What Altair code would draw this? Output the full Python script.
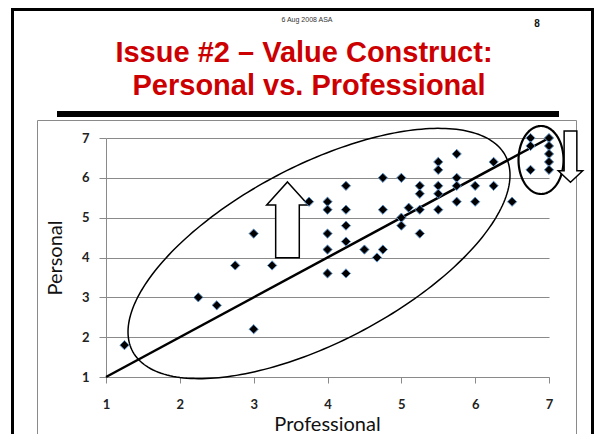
import altair as alt
import pandas as pd
import numpy as np

# ---- data ----
professional = [1.25, 2.25, 2.5, 2.75, 3.0, 3.0, 3.25, 3.75,
                4.0, 4.0, 4.0, 4.0, 4.0,
                4.25, 4.25, 4.25, 4.25, 4.25,
                4.5, 4.67,
                4.75, 4.75, 4.75,
                5.0, 5.0, 5.0, 5.1,
                5.25, 5.25, 5.25, 5.25,
                5.5, 5.5, 5.5, 5.5, 5.5,
                5.75, 5.75, 5.75, 5.75,
                6.0, 6.0, 6.25, 6.25, 6.5,
                6.75, 6.75, 6.75,
                7.0, 7.0, 7.0, 7.0, 7.0]
personal = [1.8, 3.0, 2.8, 3.8, 4.6, 2.2, 3.8, 5.4,
            5.4, 5.2, 4.6, 4.2, 3.6,
            5.8, 5.2, 4.8, 4.4, 3.6,
            4.2, 4.0,
            6.0, 5.2, 4.2,
            6.0, 5.0, 4.8, 5.25,
            5.8, 5.6, 5.2, 4.6,
            6.4, 6.2, 5.8, 5.6, 5.2,
            6.6, 6.0, 5.8, 5.4,
            5.8, 5.4, 6.4, 5.8, 5.4,
            7.0, 6.8, 6.2,
            7.0, 6.8, 6.6, 6.4, 6.2]
trend_x = [1, 7]
trend_y = [1, 7]
ticks = [1, 2, 3, 4, 5, 6, 7]

title_lines = ["Issue #2 \u2013 Value Construct:", "Personal vs. Professional"]
header_text = "6 Aug 2008 ASA"
page_no = "8"

# ---- layout ----
W, H = 443, 239
PX_X = W / 6.0
PX_Y = H / 6.0

pts = pd.DataFrame({"Professional": professional, "Personal": personal})
trend = pd.DataFrame({"Professional": trend_x, "Personal": trend_y})

xs = alt.Scale(domain=[1, 7], nice=False, zero=False)
ys = alt.Scale(domain=[1, 7], nice=False, zero=False)

LABEL_FONT = "Lato"
GREY = "#8a8a8a"

x_axis = alt.Axis(values=ticks, grid=False, domainColor=GREY, tickColor=GREY,
                  tickSize=6, labelFont=LABEL_FONT, labelFontWeight="bold",
                  labelFontSize=13, labelColor="#222222", labelPadding=15,
                  labelFlush=False, labelOverlap=False, format="d",
                  title="Professional", titleFont=LABEL_FONT, titleFontSize=20,
                  titleFontWeight="normal", titleColor="#111111",
                  titleX=221, titleY=53, titleBaseline="alphabetic", titleAlign="center")
y_axis = alt.Axis(values=ticks, grid=True, gridColor=GREY, gridWidth=1,
                  domainColor=GREY, tickColor=GREY, tickSize=7, format="d",
                  labelFont=LABEL_FONT, labelFontWeight="bold", labelFontSize=13,
                  labelColor="#222222", labelPadding=10, labelFlush=False, labelOverlap=False,
                  title="Personal", titleFont=LABEL_FONT, titleFontSize=20,
                  titleFontWeight="normal", titleColor="#111111",
                  titleAngle=270, titleX=-51, titleY=119.5, titleBaseline="middle",
                  titleAlign="center")

X = alt.X("Professional:Q", scale=xs, axis=x_axis)
Y = alt.Y("Personal:Q", scale=ys, axis=y_axis)

one = pd.DataFrame({"k": [0]})


def box(x, x2, y, y2, **kw):
    return alt.Chart(one).mark_rect(**kw).encode(
        x=alt.value(x), x2=alt.value(x2), y=alt.value(y), y2=alt.value(y2))


def label(txt, x, y, **kw):
    return alt.Chart(one).mark_text(**kw).encode(
        x=alt.value(x), y=alt.value(y), text=alt.value(txt))


slide_border = box(-93.5, 486.5, -128.5, 320, filled=False, stroke="black", strokeWidth=3)
chart_border = box(-68.5, 470.5, -17.5, 320, filled=False, stroke=GREY, strokeWidth=1)
bar = box(-49, 453, -27, -21, fill="black")

t1 = label(title_lines[0], 198, -76, font="Liberation Sans", fontSize=29, fontWeight="bold",
           color="#CC0000", align="center", baseline="alphabetic")
t2 = label(title_lines[1], 203, -43, font="Liberation Sans", fontSize=29, fontWeight="bold",
           color="#CC0000", align="center", baseline="alphabetic")
hdr = label(header_text, 201, -116.5, font="Liberation Sans", fontSize=7,
            color="#333333", align="center", baseline="alphabetic")
pg = label(page_no, 431, -111, font="Liberation Sans", fontSize=10, fontWeight="bold",
           color="#111111", align="center", baseline="alphabetic")


def ellipse(cx, cy, a, b, theta_deg, n=240):
    t = np.linspace(0, 2 * np.pi, n)
    th = np.radians(theta_deg)
    dx = a * np.cos(t) * np.cos(th) - b * np.sin(t) * np.sin(th)
    dy = a * np.cos(t) * np.sin(th) + b * np.sin(t) * np.cos(th)
    return pd.DataFrame({"Professional": cx + dx / PX_X, "Personal": cy + dy / PX_Y,
                         "i": np.arange(n)})


big_ell = alt.Chart(ellipse(3.885, 4.10, 210.5, 88.5, 27.6)).mark_line(
    color="black", strokeWidth=1.5).encode(x=X, y=Y, order="i:Q")
small_ell = alt.Chart(ellipse(6.892, 6.448, 22.5, 34, 0.0)).mark_line(
    color="black", strokeWidth=2.2).encode(x=X, y=Y, order="i:Q")

up_path = "M 0 -1 L 0.55 -0.39 L 0.312 -0.39 L 0.312 1 L -0.312 1 L -0.312 -0.39 L -0.55 -0.39 Z"
down_path = "M 0 1 L 0.476 0.546 L 0.248 0.546 L 0.248 -1 L -0.248 -1 L -0.248 0.546 L -0.476 0.546 Z"

up_arrow = alt.Chart(pd.DataFrame({"Professional": [3.458], "Personal": [4.946]})).mark_point(
    shape=up_path, size=75.7 ** 2, filled=True, fill="white", stroke="black",
    strokeWidth=1.5, opacity=1).encode(x=X, y=Y)
down_arrow = alt.Chart(pd.DataFrame({"Professional": [7.291], "Personal": [6.531]})).mark_point(
    shape=down_path, size=51.3 ** 2, filled=True, fill="white", stroke="black",
    strokeWidth=1.5, opacity=1).encode(x=X, y=Y)

trend_line = alt.Chart(trend).mark_line(color="black", strokeWidth=2.5).encode(x=X, y=Y)

points = alt.Chart(pts).mark_point(shape="diamond", size=85, filled=True, fill="black",
                                   stroke="#5f93c8", strokeWidth=1, opacity=1).encode(x=X, y=Y)

chart = alt.layer(
    slide_border, chart_border, bar, t1, t2, hdr, pg,
    trend_line, big_ell, small_ell, up_arrow, down_arrow, points
).properties(
    width=W, height=H,
    padding={"left": 98, "top": 130, "right": 45, "bottom": 57},
    autosize=alt.AutoSizeParams(type="none"),
    background="white"
).configure_view(stroke=None)

chart.save("out.html", embed_options={"renderer": "svg", "actions": False})
